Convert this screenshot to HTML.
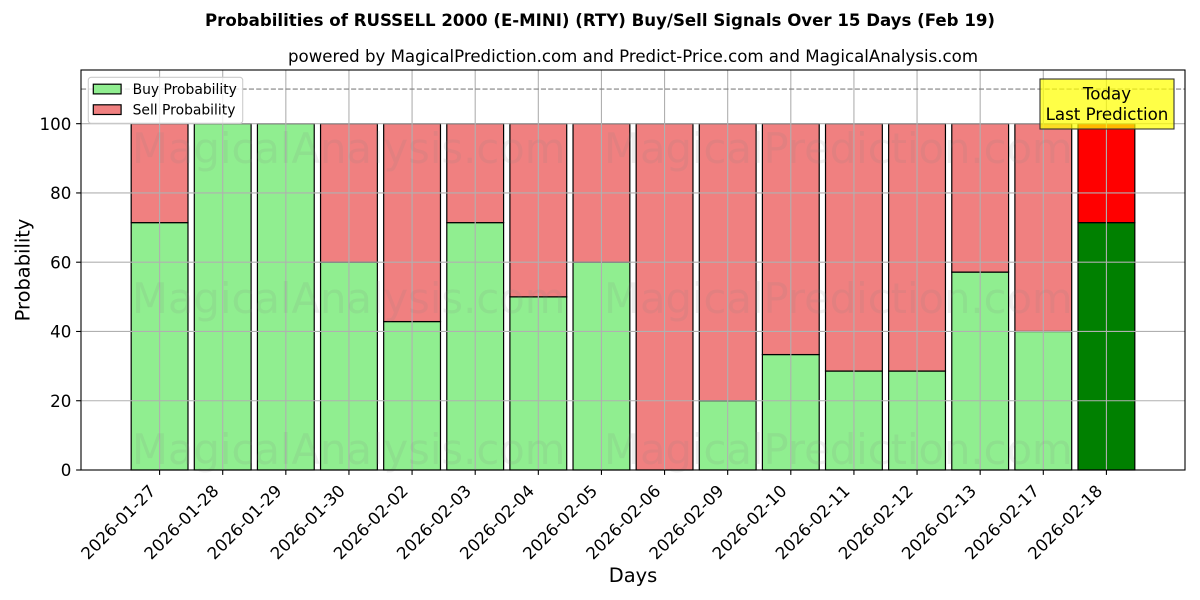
<!DOCTYPE html>
<html>
<head>
<meta charset="utf-8">
<style>
html,body{margin:0;padding:0;background:#fff;}
svg{display:block;font-family:"DejaVu Sans","Liberation Sans",sans-serif;}
</style>
</head>
<body>
<svg width="1200" height="600" viewBox="0 0 1200 600" xmlns="http://www.w3.org/2000/svg">
<rect width="1200" height="600" fill="#fff"/>

<!-- Bars: buy -->
<g stroke="#000" stroke-width="1.2">
<rect x="131.18" y="222.63" width="56.81" height="247.37" fill="#90ee90"/>
<rect x="194.30" y="123.68" width="56.81" height="346.32" fill="#90ee90"/>
<rect x="257.42" y="123.68" width="56.81" height="346.32" fill="#90ee90"/>
<rect x="320.55" y="262.21" width="56.81" height="207.79" fill="#90ee90"/>
<rect x="383.67" y="321.57" width="56.81" height="148.43" fill="#90ee90"/>
<rect x="446.79" y="222.63" width="56.81" height="247.37" fill="#90ee90"/>
<rect x="509.91" y="296.84" width="56.81" height="173.16" fill="#90ee90"/>
<rect x="573.03" y="262.21" width="56.81" height="207.79" fill="#90ee90"/>
<rect x="636.16" y="470" width="56.81" height="0" fill="#90ee90"/>
<rect x="699.28" y="400.74" width="56.81" height="69.26" fill="#90ee90"/>
<rect x="762.40" y="354.56" width="56.81" height="115.44" fill="#90ee90"/>
<rect x="825.52" y="371.05" width="56.81" height="98.95" fill="#90ee90"/>
<rect x="888.64" y="371.05" width="56.81" height="98.95" fill="#90ee90"/>
<rect x="951.77" y="272.10" width="56.81" height="197.90" fill="#90ee90"/>
<rect x="1014.89" y="331.47" width="56.81" height="138.53" fill="#90ee90"/>
<rect x="1078.01" y="222.63" width="56.81" height="247.37" fill="#008000"/>
</g>
<!-- Bars: sell -->
<g stroke="#000" stroke-width="1.2">
<rect x="131.18" y="123.68" width="56.81" height="98.95" fill="#f08080"/>
<rect x="194.30" y="123.68" width="56.81" height="0" fill="#f08080"/>
<rect x="257.42" y="123.68" width="56.81" height="0" fill="#f08080"/>
<rect x="320.55" y="123.68" width="56.81" height="138.53" fill="#f08080"/>
<rect x="383.67" y="123.68" width="56.81" height="197.89" fill="#f08080"/>
<rect x="446.79" y="123.68" width="56.81" height="98.95" fill="#f08080"/>
<rect x="509.91" y="123.68" width="56.81" height="173.16" fill="#f08080"/>
<rect x="573.03" y="123.68" width="56.81" height="138.53" fill="#f08080"/>
<rect x="636.16" y="123.68" width="56.81" height="346.32" fill="#f08080"/>
<rect x="699.28" y="123.68" width="56.81" height="277.06" fill="#f08080"/>
<rect x="762.40" y="123.68" width="56.81" height="230.88" fill="#f08080"/>
<rect x="825.52" y="123.68" width="56.81" height="247.37" fill="#f08080"/>
<rect x="888.64" y="123.68" width="56.81" height="247.37" fill="#f08080"/>
<rect x="951.77" y="123.68" width="56.81" height="148.42" fill="#f08080"/>
<rect x="1014.89" y="123.68" width="56.81" height="207.79" fill="#f08080"/>
<rect x="1078.01" y="123.68" width="56.81" height="98.95" fill="#ff0000"/>
</g>

<!-- Grid -->
<g stroke="#b0b0b0" stroke-width="1.1">
<line x1="159.59" y1="70" x2="159.59" y2="470"/>
<line x1="222.71" y1="70" x2="222.71" y2="470"/>
<line x1="285.83" y1="70" x2="285.83" y2="470"/>
<line x1="348.95" y1="70" x2="348.95" y2="470"/>
<line x1="412.07" y1="70" x2="412.07" y2="470"/>
<line x1="475.20" y1="70" x2="475.20" y2="470"/>
<line x1="538.32" y1="70" x2="538.32" y2="470"/>
<line x1="601.44" y1="70" x2="601.44" y2="470"/>
<line x1="664.56" y1="70" x2="664.56" y2="470"/>
<line x1="727.68" y1="70" x2="727.68" y2="470"/>
<line x1="790.81" y1="70" x2="790.81" y2="470"/>
<line x1="853.93" y1="70" x2="853.93" y2="470"/>
<line x1="917.05" y1="70" x2="917.05" y2="470"/>
<line x1="980.17" y1="70" x2="980.17" y2="470"/>
<line x1="1043.29" y1="70" x2="1043.29" y2="470"/>
<line x1="1106.42" y1="70" x2="1106.42" y2="470"/>
<line x1="81" y1="400.74" x2="1185" y2="400.74"/>
<line x1="81" y1="331.47" x2="1185" y2="331.47"/>
<line x1="81" y1="262.21" x2="1185" y2="262.21"/>
<line x1="81" y1="192.94" x2="1185" y2="192.94"/>
<line x1="81" y1="123.68" x2="1185" y2="123.68"/>
</g>

<!-- Dashed line at 110 -->
<line x1="81" y1="89.05" x2="1185" y2="89.05" stroke="#808080" stroke-width="1.2" stroke-dasharray="5.1,2.2"/>

<!-- Watermarks -->
<g fill="#808080" fill-opacity="0.13" font-size="41.67">
<text x="132" y="163">MagicalAnalysis.com</text>
<text x="604" y="163">MagicalPrediction.com</text>
<text x="132" y="313">MagicalAnalysis.com</text>
<text x="604" y="313">MagicalPrediction.com</text>
<text x="132" y="464">MagicalAnalysis.com</text>
<text x="604" y="464">MagicalPrediction.com</text>
</g>

<!-- Axes frame -->
<rect x="81" y="70" width="1104" height="400" fill="none" stroke="#000" stroke-width="1.1"/>

<!-- Y ticks -->
<g stroke="#000" stroke-width="1.1">
<line x1="76.1" y1="470" x2="81" y2="470"/>
<line x1="76.1" y1="400.74" x2="81" y2="400.74"/>
<line x1="76.1" y1="331.47" x2="81" y2="331.47"/>
<line x1="76.1" y1="262.21" x2="81" y2="262.21"/>
<line x1="76.1" y1="192.94" x2="81" y2="192.94"/>
<line x1="76.1" y1="123.68" x2="81" y2="123.68"/>
</g>
<g font-size="16.67" text-anchor="end" fill="#000">
<text x="71.3" y="476.1">0</text>
<text x="71.3" y="406.8">20</text>
<text x="71.3" y="337.6">40</text>
<text x="71.3" y="268.3">60</text>
<text x="71.3" y="199.0">80</text>
<text x="71.3" y="129.8">100</text>
</g>

<!-- X ticks -->
<g stroke="#000" stroke-width="1.1">
<line x1="159.59" y1="470" x2="159.59" y2="474.9"/>
<line x1="222.71" y1="470" x2="222.71" y2="474.9"/>
<line x1="285.83" y1="470" x2="285.83" y2="474.9"/>
<line x1="348.95" y1="470" x2="348.95" y2="474.9"/>
<line x1="412.07" y1="470" x2="412.07" y2="474.9"/>
<line x1="475.20" y1="470" x2="475.20" y2="474.9"/>
<line x1="538.32" y1="470" x2="538.32" y2="474.9"/>
<line x1="601.44" y1="470" x2="601.44" y2="474.9"/>
<line x1="664.56" y1="470" x2="664.56" y2="474.9"/>
<line x1="727.68" y1="470" x2="727.68" y2="474.9"/>
<line x1="790.81" y1="470" x2="790.81" y2="474.9"/>
<line x1="853.93" y1="470" x2="853.93" y2="474.9"/>
<line x1="917.05" y1="470" x2="917.05" y2="474.9"/>
<line x1="980.17" y1="470" x2="980.17" y2="474.9"/>
<line x1="1043.29" y1="470" x2="1043.29" y2="474.9"/>
<line x1="1106.42" y1="470" x2="1106.42" y2="474.9"/>
</g>
<g font-size="16.67" text-anchor="end" fill="#000">
<text transform="translate(156.6,492) rotate(-45)">2026-01-27</text>
<text transform="translate(219.7,492) rotate(-45)">2026-01-28</text>
<text transform="translate(282.8,492) rotate(-45)">2026-01-29</text>
<text transform="translate(346.0,492) rotate(-45)">2026-01-30</text>
<text transform="translate(409.1,492) rotate(-45)">2026-02-02</text>
<text transform="translate(472.2,492) rotate(-45)">2026-02-03</text>
<text transform="translate(535.3,492) rotate(-45)">2026-02-04</text>
<text transform="translate(598.4,492) rotate(-45)">2026-02-05</text>
<text transform="translate(661.6,492) rotate(-45)">2026-02-06</text>
<text transform="translate(724.7,492) rotate(-45)">2026-02-09</text>
<text transform="translate(787.8,492) rotate(-45)">2026-02-10</text>
<text transform="translate(850.9,492) rotate(-45)">2026-02-11</text>
<text transform="translate(914.1,492) rotate(-45)">2026-02-12</text>
<text transform="translate(977.2,492) rotate(-45)">2026-02-13</text>
<text transform="translate(1040.3,492) rotate(-45)">2026-02-17</text>
<text transform="translate(1103.4,492) rotate(-45)">2026-02-18</text>
</g>

<!-- Axis labels -->
<text x="633" y="582" font-size="19.44" text-anchor="middle" fill="#000">Days</text>
<text transform="translate(29.5,270) rotate(-90)" font-size="19.44" text-anchor="middle" fill="#000">Probability</text>

<!-- Titles -->
<text x="600" y="26" font-size="16.67" font-weight="bold" text-anchor="middle" fill="#000" textLength="790" lengthAdjust="spacingAndGlyphs">Probabilities of RUSSELL 2000 (E-MINI) (RTY) Buy/Sell Signals Over 15 Days (Feb 19)</text>
<text x="633" y="62" font-size="16.67" text-anchor="middle" fill="#000" textLength="690" lengthAdjust="spacingAndGlyphs">powered by MagicalPrediction.com and Predict-Price.com and MagicalAnalysis.com</text>

<!-- Legend -->
<rect x="88.3" y="77.3" width="154.4" height="46" rx="2.8" ry="2.8" fill="#fff" fill-opacity="0.8" stroke="#cccccc" stroke-width="1.1"/>
<rect x="93.3" y="84.2" width="27.8" height="9.7" fill="#90ee90" stroke="#000" stroke-width="1.2"/>
<rect x="93.3" y="104.8" width="27.8" height="9.7" fill="#f08080" stroke="#000" stroke-width="1.2"/>
<g font-size="13.89" fill="#000">
<text x="132.6" y="94">Buy Probability</text>
<text x="132.6" y="114.6">Sell Probability</text>
</g>

<!-- Today box -->
<rect x="1040" y="79" width="134" height="50" fill="#ffff00" fill-opacity="0.72" stroke="#333" stroke-width="1.1"/>
<g font-size="16.67" text-anchor="middle" fill="#000">
<text x="1107" y="99.3">Today</text>
<text x="1107" y="120">Last Prediction</text>
</g>
</svg>
</body>
</html>
